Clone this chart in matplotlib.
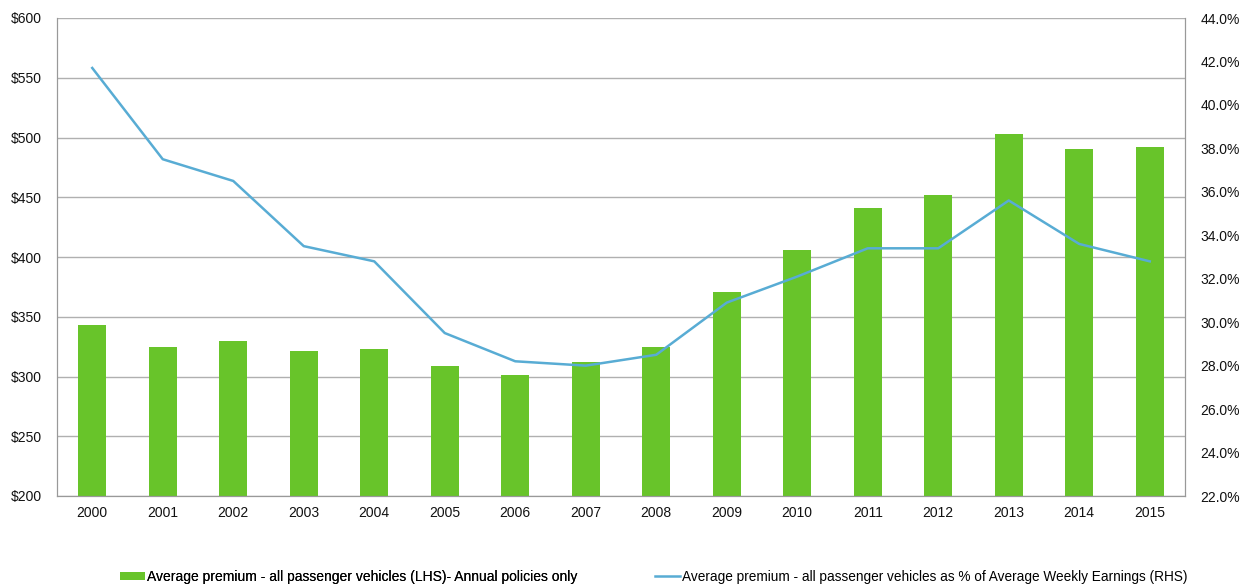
import matplotlib
matplotlib.use("Agg")
import matplotlib.pyplot as plt
from matplotlib.ticker import FuncFormatter, MultipleLocator
from matplotlib.patches import Patch
from matplotlib.lines import Line2D

years = ["2000", "2001", "2002", "2003", "2004", "2005", "2006", "2007",
         "2008", "2009", "2010", "2011", "2012", "2013", "2014", "2015"]
premium = [343, 325, 330, 321, 323, 309, 301, 312, 325, 371, 406, 441, 452, 503, 490, 492]
pct_awe = [41.7, 37.5, 36.5, 33.5, 32.8, 29.5, 28.2, 28.0, 28.5, 30.9, 32.1, 33.4, 33.4, 35.6, 33.6, 32.8]

label_bar = "Average premium - all passenger vehicles (LHS)- Annual policies only"
label_line = "Average premium - all passenger vehicles as % of Average Weekly Earnings (RHS)"

plt.rcParams['font.family'] = ['Liberation Sans', 'DejaVu Sans']

bar_color = "#68c42a"
line_color = "#58acd4"

fig = plt.figure(figsize=(12.48, 5.87), dpi=100)
ax = fig.add_axes([57/1248, 1-496/587, (1185-57)/1248, (496-18)/587])

x = list(range(len(years)))
ax.bar(x, premium, width=0.4, color=bar_color, zorder=2)
ax.set_ylim(200, 600)
ax.set_xlim(-0.5, len(years) - 0.5)
ax.yaxis.set_major_locator(MultipleLocator(50))
ax.yaxis.set_major_formatter(FuncFormatter(lambda v, p: f"${v:.0f}"))
ax.set_xticks(x)
ax.set_xticklabels(years)
ax.grid(axis="y", color="#b0b0b0", linewidth=1.0, zorder=0)
ax.set_axisbelow(True)
ax.spines["top"].set_visible(False)
for s in ["left", "right", "bottom"]:
    ax.spines[s].set_color("#999999")
ax.tick_params(axis="both", length=0, labelsize=10, colors="#111111")
ax.tick_params(axis="x", pad=7)
ax.tick_params(axis="y", pad=11)

ax2 = ax.twinx()
ax2.plot(x, pct_awe, color=line_color, linewidth=1.8, zorder=3)
ax2.set_ylim(22, 44)
ax2.yaxis.set_major_locator(MultipleLocator(2))
ax2.yaxis.set_major_formatter(FuncFormatter(lambda v, p: f"{v:.1f}%"))
ax2.tick_params(axis="y", length=0, labelsize=10, colors="#111111", pad=11)
ax2.spines["top"].set_visible(False)
for s in ["left", "right", "bottom"]:
    ax2.spines[s].set_color("#999999")

y_leg = 1 - 577/587
leg1 = fig.legend(handles=[Patch(facecolor=bar_color, label=label_bar)],
                  loc="center left", bbox_to_anchor=(120/1248, y_leg),
                  frameon=False, fontsize=10, borderpad=0, borderaxespad=0,
                  handlelength=1.8, handleheight=0.5, handletextpad=0.15)
fig.add_artist(leg1)
fig.legend(handles=[Line2D([0], [0], color=line_color, linewidth=1.8, label=label_line)],
           loc="center left", bbox_to_anchor=(655/1248, y_leg),
           frameon=False, fontsize=9.8, borderpad=0, borderaxespad=0,
           handlelength=1.8, handletextpad=0.15)

fig.savefig("out.png", dpi=100)
